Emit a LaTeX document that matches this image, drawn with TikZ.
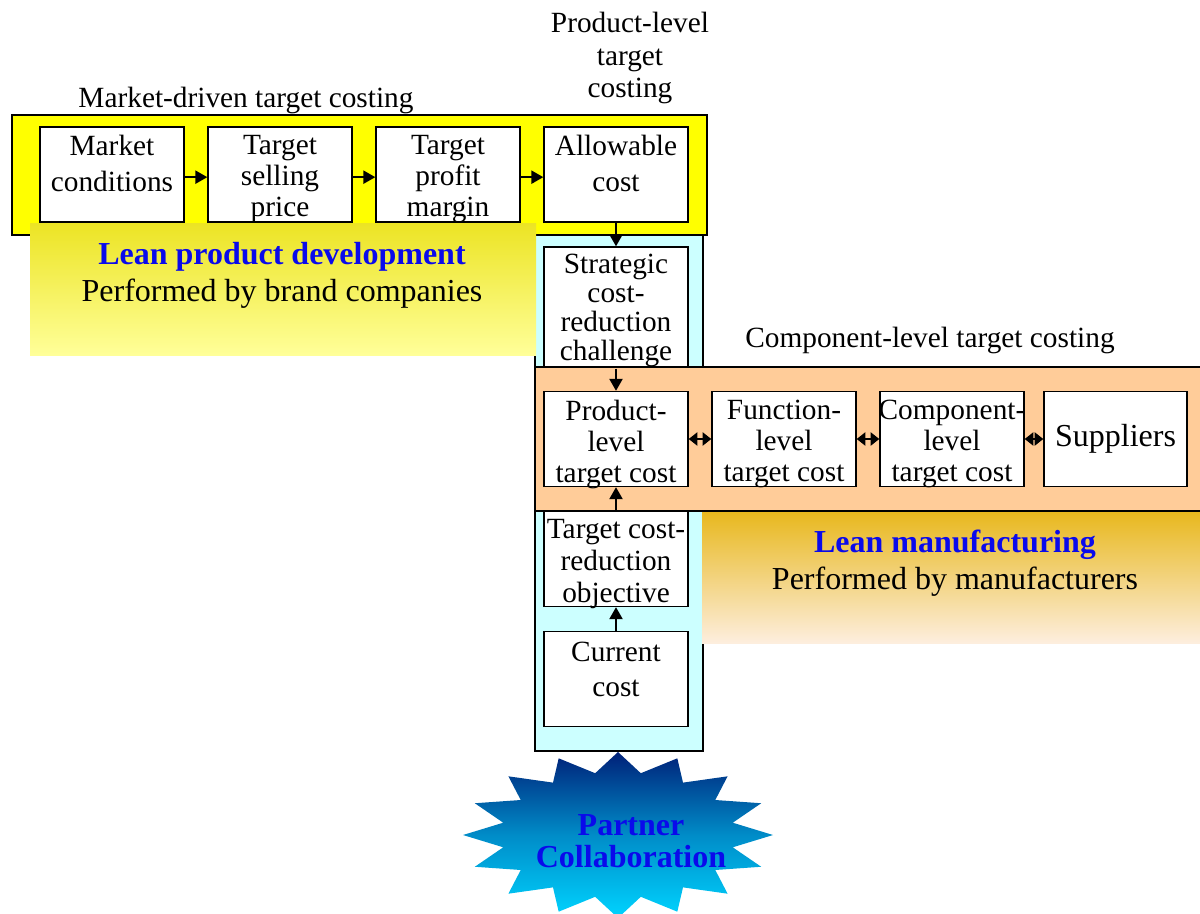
\documentclass[tikz,border=0pt]{standalone}
\usepackage{fontspec}
\setmainfont{Liberation Serif}
\usetikzlibrary{arrows.meta}
\definecolor{ylw}{RGB}{255,255,0}
\definecolor{cyanbg}{RGB}{204,255,255}
\definecolor{orng}{RGB}{255,204,153}
\definecolor{ygtop}{RGB}{236,228,36}
\definecolor{ygbot}{RGB}{255,255,153}
\definecolor{ogtop}{RGB}{232,184,30}
\definecolor{ogbot}{RGB}{253,238,222}
\definecolor{startop}{RGB}{0,32,120}
\definecolor{starbot}{RGB}{0,212,255}
\definecolor{lblue}{RGB}{10,10,235}
\begin{document}
\begin{tikzpicture}[x=0.75pt,y=-0.75pt,
  container/.style={draw=black, line width=1.5pt},
  box/.style={draw=black, fill=white, line width=1.1pt, minimum width=108pt, minimum height=71.25pt, inner sep=0pt},
  bt/.style={anchor=north, align=center, inner sep=0pt, font=\fontsize{22}{23.25}\selectfont},
  lbl/.style={align=center, inner sep=0pt, font=\fontsize{22}{24}\selectfont},
  lean/.style={anchor=north, align=center, inner sep=0pt, font=\fontsize{24}{27.75}\selectfont},
  arr/.style={-{Triangle[length=9pt,width=10pt]}, line width=1.1pt},
  darr/.style={{Triangle[length=6.5pt,width=10pt]}-{Triangle[length=6.5pt,width=10pt]}, line width=1.1pt}
]
\useasboundingbox (0,0) rectangle (1200,914);

% containers
\draw[container, fill=cyanbg] (535,230) rectangle (703,751);
\draw[container, fill=ylw] (12,115) rectangle (707,235);

% row 1 boxes
\node[box] (mc) at (112,174.5) {};
\node[box] (tsp) at (280,174.5) {};
\node[box] (tpm) at (448,174.5) {};
\node[box] (ac) at (616,174.5) {};

% strategic box
\node[box, minimum height=90.75pt] (scr) at (616,307.5) {};

% orange container
\draw[line width=1.2pt, fill=orng] (535,367) rectangle (1212,511);

% row 2 boxes
\node[box] (plt) at (616,439) {};
\node[box] (flt) at (784,439) {};
\node[box] (clt) at (952,439) {};
\node[box, minimum width=107.25pt] (sup) at (1115.5,439) {};

% lower column boxes
\node[box] (tcro) at (616,559) {};
\node[box] (cc) at (616,679) {};

% gradient panels
\shade[top color=ygtop, bottom color=ygbot] (30,223) rectangle (536,355);
\shade[top color=ogtop, bottom color=ogbot] (702,512) rectangle (1200,643);

% star
\shade[top color=startop, bottom color=starbot, middle color={rgb,255:red,0;green,140;blue,200}]
  plot[samples=33, domain=0:32, variable=\t]
  ({618+(155-38*mod(\t,2))*sin(\t*11.25)}, {835-(83-20*mod(\t,2))*cos(\t*11.25)}) -- cycle;

% box texts
\node[bt] (tmc) at ([yshift=-6.5pt]mc.north) {Market\\[3.5pt]conditions};
\node[bt] (ttsp) at ([yshift=-6.5pt]tsp.north) {Target\\selling\\price};
\node[bt] (ttpm) at ([yshift=-6.5pt]tpm.north) {Target\\profit\\margin};
\node[bt] (tac) at ([yshift=-6.5pt]ac.north) {Allowable\\[3.5pt]cost};
\node[bt, font=\fontsize{22}{21.75}\selectfont] (tscr) at ([yshift=-6pt]scr.north) {Strategic\\cost-\\reduction\\challenge};
\node[bt] (tplt) at ([yshift=-6.5pt]plt.north) {Product-\\level\\target cost};
\node[bt] (tflt) at ([yshift=-6.5pt]flt.north) {Function-\\level\\target cost};
\node[bt] (tclt) at ([yshift=-6.5pt]clt.north) {Component-\\level\\target cost};
\node[inner sep=0pt, font=\fontsize{24}{26}\selectfont] (tsup) at (sup.center) {Suppliers};
\node[bt, font=\fontsize{22}{24}\selectfont] (ttcro) at ([yshift=-6.5pt]tcro.north) {Target cost-\\reduction\\objective};
\node[bt] (tcc) at ([yshift=-8pt]cc.north) {Current\\[3pt]cost};

% labels
\node[lbl, anchor=north] (lmd) at (246,87) {Market-driven target costing};
\node[lbl, anchor=north, font=\fontsize{22}{24.5}\selectfont] (lpl) at (630,12) {Product-level\\target\\costing};
\node[lbl, anchor=north] (lcl) at (930,327) {Component-level target costing};

\node[lean] (lpd) at (282,242) {\textcolor{lblue}{\textbf{Lean product development}}\\Performed by brand companies};
\node[lean] (lm) at (955,530) {\textcolor{lblue}{\textbf{Lean manufacturing}}\\Performed by manufacturers};
\node[lean, font=\fontsize{24}{24}\selectfont\bfseries, text=lblue] (pc) at (631,814) {Partner\\Collaboration};

% arrows
\draw[arr] ([yshift=-2pt]mc.east) -- ([yshift=-2pt]tsp.west);
\draw[arr] ([yshift=-2pt]tsp.east) -- ([yshift=-2pt]tpm.west);
\draw[arr] ([yshift=-2pt]tpm.east) -- ([yshift=-2pt]ac.west);
\draw[arr] (ac.south) -- (scr.north);
\draw[arr] (scr.south) -- (plt.north);
\draw[darr] (plt.east) -- (flt.west);
\draw[darr] (flt.east) -- (clt.west);
\draw[darr] (clt.east) -- (sup.west);
\draw[arr] (tcro.north) -- (plt.south);
\draw[arr] (cc.north) -- (tcro.south);
\end{tikzpicture}
\end{document}
